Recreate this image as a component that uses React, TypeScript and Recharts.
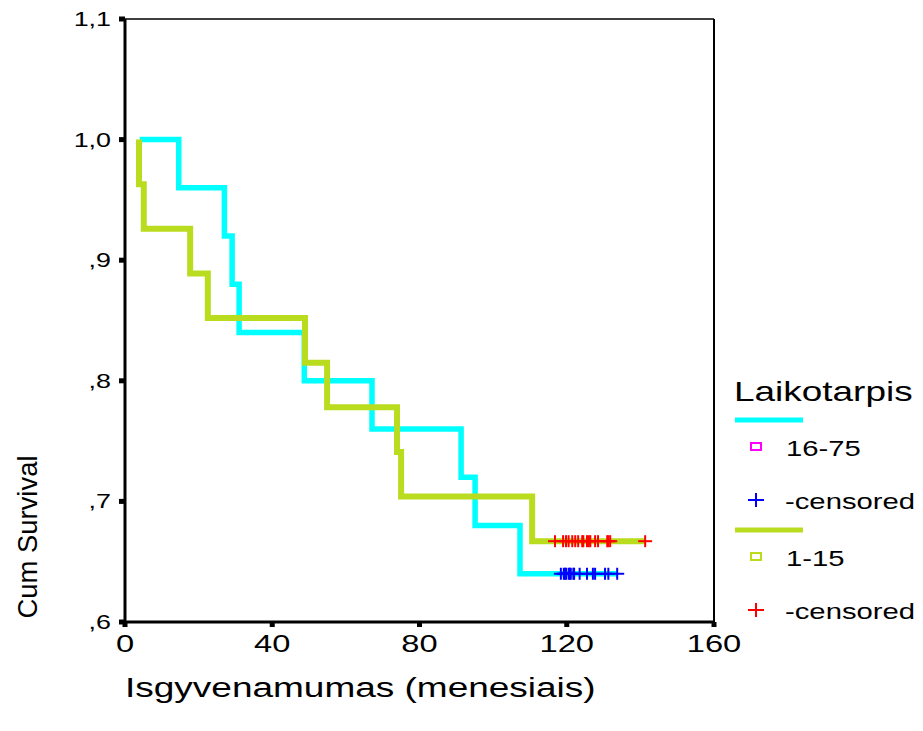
import React from 'react';
import { ComposedChart, Line, Scatter, XAxis, YAxis, ReferenceLine } from 'recharts';

// ---- data ----
const xTicks = [0, 40, 80, 120, 160];
const yTicks = [0.6, 0.7, 0.8, 0.9, 1.0, 1.1];
const yTickLabels = [',6', ',7', ',8', ',9', '1,0', '1,1'];

// group 16-75: step times and survival values
const g1Times = [4, 14.6, 27, 29.1, 31, 48.7, 67.1, 91.3, 95.1, 107.3, 133.7];
const g1Surv = [1.0, 0.96, 0.92, 0.88, 0.84, 0.8, 0.76, 0.72, 0.68, 0.64, 0.64];
const g1Censored = [118.4, 119.2, 119.5, 119.8, 120.5, 120.8, 121.1, 121.8, 122.0, 123.5, 125.5, 127.1, 127.7, 130.4, 131.3, 133.7];
const g1CensSurv = 0.64;

// group 1-15
const g2Times = [3.8, 3.8, 5.1, 17.7, 22.5, 48.9, 54.9, 73.9, 75, 110.6, 141.3];
const g2Surv = [1.0, 0.963, 0.926, 0.889, 0.852, 0.815, 0.778, 0.741, 0.704, 0.667, 0.667];
const g2Censored = [116.8, 119.0, 119.8, 120.5, 121.5, 122.3, 123.1, 124.2, 124.5, 125.5, 126.0, 126.4, 127.7, 128.5, 131.0, 131.3, 131.8, 141.3];
const g2CensSurv = 0.667;

const legendTitle = 'Laikotarpis';
const legendGroups = [
  { label: '16-75', line: '#00FFFF', square: '#FF00FF', plus: '#0000FF' },
  { label: '1-15', line: '#B9DC1E', square: '#B9DC1E', plus: '#FF0000' },
];
const censoredLabel = '-censored';
const xTitle = 'Isgyvenamumas (menesiais)';
const yTitle = 'Cum Survival';

const g1Data = g1Times.map((t, i) => ({ t, s: g1Surv[i] }));
const g2Data = g2Times.map((t, i) => ({ t, s: g2Surv[i] }));
const g1Cens = g1Censored.map((t) => ({ t, s: g1CensSurv }));
const g2Cens = g2Censored.map((t) => ({ t, s: g2CensSurv }));

const FONT = "'Liberation Sans', Arial, sans-serif";

function SText({ x, y, anchor = 'start', size, sx = 1.3, fill = '#000', children }: any) {
  return (
    <text
      transform={`translate(${x},${y}) scale(${sx},1)`}
      textAnchor={anchor}
      fontSize={size}
      fontFamily={FONT}
      fill={fill}
    >
      {children}
    </text>
  );
}

const YTick = (props: any) => {
  const { x, y, index, payload } = props;
  const i = index ?? payload?.index ?? 0;
  return <SText x={x - 6} y={y + 7} anchor="end" size={21} sx={1.28}>{yTickLabels[i]}</SText>;
};

const XTick = (props: any) => {
  const { x, y, payload } = props;
  return <SText x={x} y={y + 23} anchor="middle" size={23} sx={1.42}>{payload.value}</SText>;
};

const makePlus = (color: string) => (props: any) => {
  const { cx, cy } = props;
  return (
    <g>
      <line x1={cx - 7} x2={cx + 7} y1={cy} y2={cy} stroke={color} strokeWidth={2} />
      <line x1={cx} x2={cx} y1={cy - 6} y2={cy + 6} stroke={color} strokeWidth={2} />
    </g>
  );
};

const XTitle = (props: any) => {
  const vb = props.viewBox || {};
  return <SText x={vb.x} y={697} size={27} sx={1.37}>{xTitle}</SText>;
};

const YTitle = () => (
  <text
    transform="translate(37,537) rotate(-90) scale(1,1.3)"
    textAnchor="middle"
    fontSize={21}
    fontFamily={FONT}
    textLength={163}
    lengthAdjust="spacingAndGlyphs"
    fill="#000"
  >
    {yTitle}
  </text>
);

export default function App() {
  return (
    <div style={{ position: 'absolute', left: 0, top: 0, width: 923, height: 731, background: '#fff' }}>
      <ComposedChart
        width={923}
        height={731}
        margin={{ top: 19, right: 209, bottom: 0, left: 0 }}
      >
        <XAxis
          dataKey="t"
          type="number"
          domain={[0, 160]}
          ticks={xTicks}
          allowDataOverflow
          axisLine={{ stroke: '#000', strokeWidth: 3 }}
          tickLine={{ stroke: '#000', strokeWidth: 5 }}
          tickSize={5}
          height={109}
          tick={<XTick />}
          label={<XTitle />}
        />
        <YAxis
          dataKey="s"
          type="number"
          domain={[0.6, 1.1]}
          ticks={yTicks}
          allowDataOverflow
          axisLine={{ stroke: '#000', strokeWidth: 3 }}
          tickLine={{ stroke: '#000', strokeWidth: 5 }}
          tickSize={6}
          width={125}
          tick={<YTick />}
          label={<YTitle />}
        />
        <ReferenceLine y={1.1} stroke="#000" strokeWidth={1.5} ifOverflow="visible" />
        <ReferenceLine x={160} stroke="#000" strokeWidth={2} ifOverflow="visible" />
        <Line data={g1Data} dataKey="s" type="stepAfter" stroke="#00FFFF" strokeWidth={5.5} dot={false} isAnimationActive={false} />
        <Line data={g2Data} dataKey="s" type="stepAfter" stroke="#B9DC1E" strokeWidth={6} dot={false} isAnimationActive={false} />
        <Scatter data={g1Cens} dataKey="s" shape={makePlus('#0000FF')} isAnimationActive={false} />
        <Scatter data={g2Cens} dataKey="s" shape={makePlus('#FF0000')} isAnimationActive={false} />
      </ComposedChart>
      <svg
        width={923}
        height={731}
        style={{ position: 'absolute', left: 0, top: 0, pointerEvents: 'none' }}
      >
        <SText x={734} y={401} size={28} sx={1.32}>{legendTitle}</SText>
        {legendGroups.map((g, gi) => {
          const base = 420 + gi * 110;
          return (
            <g key={g.label}>
              <line x1={735} x2={803} y1={base} y2={base} stroke={g.line} strokeWidth={5} />
              <rect x={751} y={base + 23} width={10} height={7} fill="none" stroke={g.square} strokeWidth={2} />
              <SText x={786} y={base + 36} size={22} sx={1.33}>{g.label}</SText>
              <line x1={748} x2={764} y1={base + 80} y2={base + 80} stroke={g.plus} strokeWidth={2} />
              <line x1={756} x2={756} y1={base + 73} y2={base + 87} stroke={g.plus} strokeWidth={2} />
              <SText x={785} y={base + 89} size={22} sx={1.33}>{censoredLabel}</SText>
            </g>
          );
        })}
      </svg>
    </div>
  );
}
